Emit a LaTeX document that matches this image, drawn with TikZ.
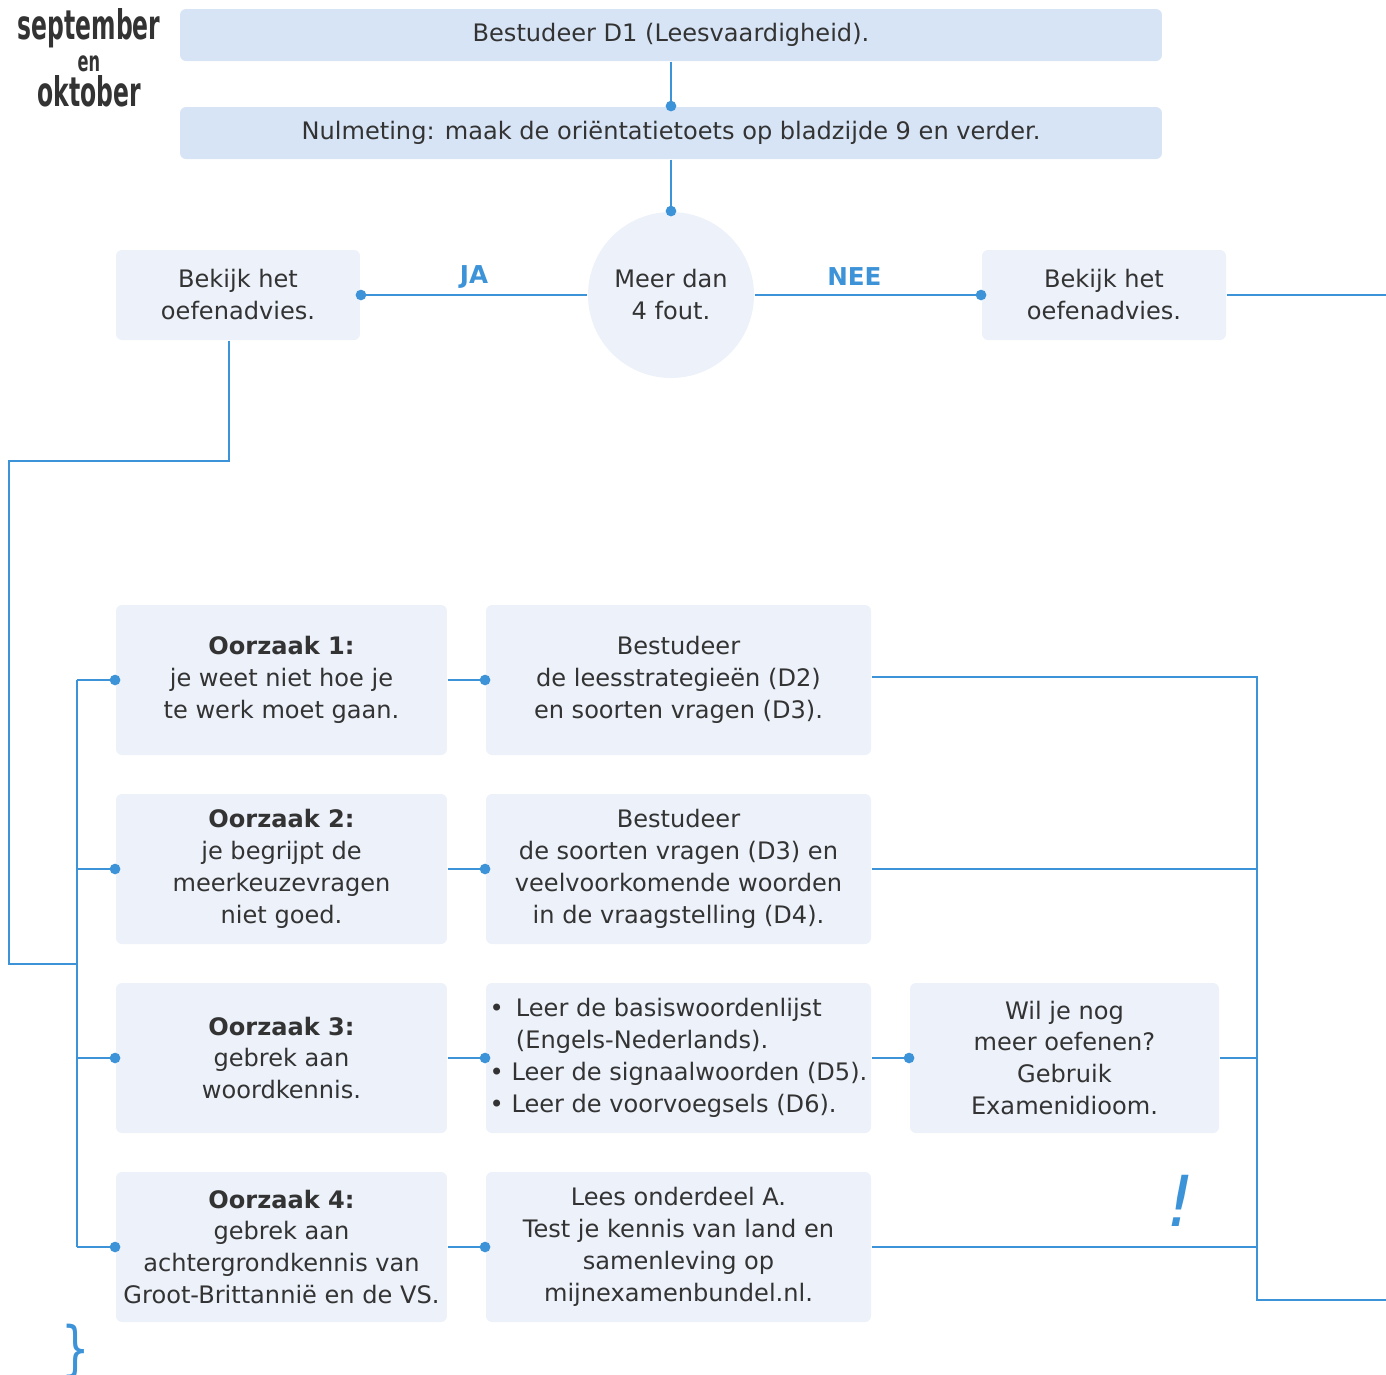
\documentclass[tikz,border=0pt]{standalone}
\usepackage{fontspec}
\setmainfont{DejaVu Sans}
\newfontfamily\titlefont{DejaVu Sans Condensed}[BoldFont=* Bold]
\usepackage{xcolor}
\usepackage{tikz}
\usetikzlibrary{arrows,arrows.meta,positioning,calc}
\definecolor{lineblue}{HTML}{3D93D8}
\definecolor{boxfill}{HTML}{ECF1FA}
\definecolor{topfill}{HTML}{D7E4F5}
\definecolor{txt}{HTML}{333333}
\tikzset{box/.style={fill=boxfill,rounded corners=0.6mm,align=center,text=txt,inner sep=0pt,
    font=\fontsize{6.85}{9.1}\selectfont}}
\tikzset{wire/.style={draw=lineblue,line width=0.6pt}}
\tikzset{dotwire/.style={wire,-{Circle[length=1.05mm,fill=lineblue]},shorten >=-0.5mm}}
\tikzset{month/.style={text=txt,inner sep=0pt,anchor=base,font=\titlefont\bfseries}}
\tikzset{answer/.style={midway,yshift=1.8mm,text=lineblue,inner sep=0pt,font=\fontsize{7}{8}\selectfont\bfseries}}

\begin{document}
\begin{tikzpicture}[-, x=0.1mm, y=-0.1mm]
\tikzstyle{topbox}=[box,fill=topfill,minimum width=98.2mm,minimum height=5.2mm]
\tikzstyle{advbox}=[box,minimum width=24.4mm,minimum height=9mm]
\tikzstyle{causebox}=[box,minimum width=33.1mm,minimum height=15mm]
\tikzstyle{studybox}=[box,minimum width=38.5mm,minimum height=15mm]
    \useasboundingbox (0,0) rectangle (1386,1375);

    % maanden
    \node[month] (T1) at (89,39) {\scalebox{0.64}[1]{\fontsize{11.6}{12}\selectfont september}};
    \node[month] (T2) at (89,71) {\scalebox{0.64}[1]{\fontsize{8}{8}\selectfont en}};
    \node[month] (T3) at (89,106) {\scalebox{0.64}[1]{\fontsize{11.6}{12}\selectfont oktober}};

    \node[topbox] (D1) at (671,35) {Bestudeer D1 (Leesvaardigheid).};
    \node[topbox] (N) at (671,133) {Nulmeting: maak de ori\"entatietoets op bladzijde 9 en verder.};
    \node[box,shape=circle,minimum size=16.6mm] (M) at (671,295) {Meer dan\\4 fout.};
    \node[advbox] (L) at (238,295) {Bekijk het\\oefenadvies.};
    \node[advbox] (R) at (1104,295) {Bekijk het\\oefenadvies.};

    \node[causebox] (O1) at (281.5,680) {\textbf{Oorzaak 1:}\\je weet niet hoe je\\te werk moet gaan.};
    \node[causebox] (O2) at (281.5,869) {\textbf{Oorzaak 2:}\\je begrijpt de\\meerkeuzevragen\\niet goed.};
    \node[causebox] (O3) at (281.5,1058) {\textbf{Oorzaak 3:}\\gebrek aan\\woordkennis.};
    \node[causebox] (O4) at (281.5,1247) {\textbf{Oorzaak 4:}\\gebrek aan\\achtergrondkennis van\\Groot-Brittanni\"e en de VS.};

    \node[studybox] (S1) at (678.5,680) {Bestudeer\\de leesstrategie\"en (D2)\\en soorten vragen (D3).};
    \node[studybox] (S2) at (678.5,869) {Bestudeer\\de soorten vragen (D3) en\\veelvoorkomende woorden\\in de vraagstelling (D4).};
    \node[studybox,align=left] (S3) at (678.5,1058)
        {\textbullet\enspace Leer de basiswoordenlijst\\\phantom{\textbullet\enspace}(Engels-Nederlands).\\
         \textbullet\ Leer de signaalwoorden (D5).\\\textbullet\ Leer de voorvoegsels (D6).};
    \node[studybox] (S4) at (678.5,1247) {Lees onderdeel A.\\Test je kennis van land en\\samenleving op\\mijnexamenbundel.nl.};
    \node[box,minimum width=30.9mm,minimum height=15mm] (E3) at (1064.5,1058) {Wil je nog\\meer oefenen?\\Gebruik\\Examenidioom.};

    \node[text=lineblue,font=\fontsize{20}{20}\itshape,inner sep=0pt] (X) at (1181,1201) {!};
    \node[text=lineblue,font=\fontsize{17}{17}\selectfont,inner sep=0pt] (H) at (76,1352) {\scalebox{0.75}[1]{\}}};

    \coordinate (k1) at (9,461);
    \coordinate (k2) at (9,964);
    \coordinate (bus) at (77,964);
    \coordinate (rb) at (1257,0);
    \coordinate (out) at (1386,1300);
    \coordinate (rout) at (1386,295);

    \draw[dotwire] (D1) -- (N.north);
    \draw[dotwire] (N) -- (M.north);
    \draw[dotwire] (M) -- node[answer] {JA} (L.east);
    \draw[dotwire] (M) -- node[answer,pos=0.44] {NEE} (R.west);
    \draw[wire] (R) -- (rout);

    \draw[wire] ([xshift=-0.9mm]L.south) |- (k1) -- (k2) -- (bus);
    \draw[wire] (bus |- O1.west) -- (bus |- O4.west);
    \foreach \i in {1,...,4} {
        \draw[dotwire] (bus |- O\i.west) -- (O\i.west);
        \draw[dotwire] (O\i) -- (S\i.west);
    }
    \draw[dotwire] (S3) -- (E3.west);

    \draw[wire] ([yshift=0.3mm]S1.east) -| ([yshift=0.3mm]rb |- S1.east) |- (out);
    \draw[wire] (S2.east) -- (rb |- S2.east);
    \draw[wire] (E3.east) -- (rb |- E3.east);
    \draw[wire] (S4.east) -- (rb |- S4.east);
\end{tikzpicture}
\end{document}
